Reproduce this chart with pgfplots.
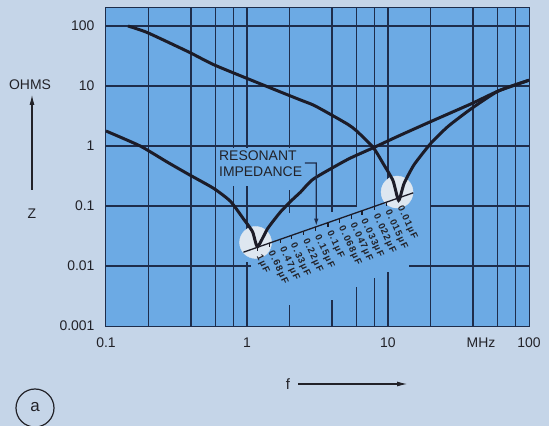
\documentclass[border=0pt]{standalone}
\usepackage{fontspec}
\setmainfont{Liberation Sans}
\newfontfamily\lblfont[LetterSpace=12]{Liberation Sans}
\usepackage{pgfplots}
\usepackage{pgfplotstable}
\pgfplotsset{compat=1.18}
\usetikzlibrary{arrows.meta}
\definecolor{outerbg}{RGB}{197,213,232}
\definecolor{plotbg}{RGB}{108,170,228}
\definecolor{gridc}{RGB}{30,45,75}
\definecolor{curvec}{RGB}{28,28,40}
\definecolor{spot}{RGB}{222,231,240}
\definecolor{txt}{RGB}{34,34,40}
\pgfdeclareplotmark{dtick}{\pgfpathmoveto{\pgfqpoint{0pt}{0pt}}\pgfpathlineto{\pgfqpoint{0pt}{-\pgfplotmarksize}}\pgfusepathqstroke}

% 1 uF capacitor impedance (MHz, ohms)
\pgfplotstableread{
f z
0.1 1.78
0.175 1.0
0.272 0.54
0.383 0.34
0.578 0.198
0.763 0.120
0.944 0.061
1.094 0.0375
1.188 0.021
1.40 0.042
1.73 0.080
2.11 0.129
2.40 0.171
2.97 0.284
5.19 0.60
7.82 0.93
11.8 1.46
20.2 2.57
39.0 5.07
60.7 8.28
100 12.5
}\curveA

% 0.01 uF capacitor impedance
\pgfplotstableread{
f z
0.1435 100
0.196 78
0.383 37.3
0.578 22.8
1.008 13.3
1.73 7.96
2.40 5.85
2.97 4.80
3.93 3.35
5.19 2.30
5.92 1.83
7.82 0.96
9.35 0.487
10.86 0.264
11.9 0.124
13.0 0.237
15.3 0.487
20.2 1.12
26.7 2.13
39.0 4.2
60.7 8.28
100 12.5
}\curveB

% resonant impedance scale
\pgfplotstableread{
f z lab
1.188 0.0205 1µF
1.441 0.02404 0.68µF
1.733 0.02797 0.47µF
2.068 0.03236 0.33µF
2.533 0.03823 0.22µF
3.067 0.04475 0.15µF
3.757 0.05284 0.1µF
4.556 0.06193 0.068µF
5.480 0.07208 0.047µF
6.540 0.08337 0.033µF
8.010 0.09847 0.022µF
9.700 0.1153 0.015µF
11.88 0.1361 0.01µF
}\resscale

\tikzset{gl/.style={gridc, line width=1.5bp}}

\begin{document}
\begin{tikzpicture}
\fill[outerbg] (0,0) rectangle (549bp,426bp);
\useasboundingbox (0,0) rectangle (549bp,426bp);
\begin{axis}[
  at={(106bp,100bp)}, anchor=south west,
  scale only axis, width=423bp, height=318bp,
  xmode=log, ymode=log,
  xmin=0.1, xmax=100, ymin=0.001, ymax=200,
  xtick={0.1,1,10,100}, xticklabels={0.1,1,10,100},
  ytick={0.001,0.01,0.1,1,10,100},
  yticklabels={0.001,0.01,0.1,1,10,100},
  xminorticks=false, yminorticks=false,
  axis line style={gridc, line width=2bp},
  major tick length=0pt, minor tick length=0pt,
  ticklabel style={font=\fontsize{14}{14}\selectfont, text=txt},
  yticklabel style={xshift=-8bp},
  xticklabel style={yshift=-8bp},
  clip mode=individual,
]
% plot area
\fill[plotbg] (rel axis cs:0,0) rectangle (rel axis cs:1,1);
% grid lines, broken where the lettering stands
\pgfplotsinvokeforeach{0.2,0.4,0.6,20,40,60,80}{
  \draw[gl] (axis cs:#1,0.001) -- (axis cs:#1,200);}
\pgfplotsinvokeforeach{1,10,100}{
  \draw[gl] (axis cs:0.1,#1) -- (axis cs:100,#1);}
\draw[gl] (axis cs:0.1,0.1) -- (axis cs:6,0.1);
\draw[gl] (axis cs:20,0.1) -- (axis cs:100,0.1);
\draw[gl] (axis cs:0.1,0.01) -- (axis cs:1.06,0.01);
\draw[gl] (axis cs:14.1,0.01) -- (axis cs:100,0.01);
\draw[gl] (axis cs:0.8,0.001) -- (axis cs:0.8,0.215);
\draw[gl] (axis cs:0.8,0.926) -- (axis cs:0.8,200);
\draw[gl] (axis cs:1,0.001) -- (axis cs:1,0.01166);
\draw[gl] (axis cs:1,0.0398) -- (axis cs:1,0.215);
\draw[gl] (axis cs:1,0.926) -- (axis cs:1,200);
\draw[gl] (axis cs:2,0.001) -- (axis cs:2,0.00224);
\draw[gl] (axis cs:2,0.0764) -- (axis cs:2,0.185);
\draw[gl] (axis cs:2,0.926) -- (axis cs:2,200);
\draw[gl] (axis cs:4,0.001) -- (axis cs:4,0.00271);
\draw[gl] (axis cs:4,0.0794) -- (axis cs:4,200);
\draw[gl] (axis cs:6,0.001) -- (axis cs:6,0.00447);
\draw[gl] (axis cs:6,0.1) -- (axis cs:6,200);
\draw[gl] (axis cs:8,0.001) -- (axis cs:8,0.0063);
\draw[gl] (axis cs:8,0.1) -- (axis cs:8,200);
\draw[gl] (axis cs:10,0.001) -- (axis cs:10,0.00794);
\draw[gl] (axis cs:10,0.271) -- (axis cs:10,200);
% pale spots at the two resonances
\addplot[only marks, mark=*, mark size=16bp, color=spot]
  coordinates {(1.15,0.0247) (11.6,0.171)};
% resonant impedance scale line
\addplot[curvec, line width=1.3bp] coordinates {(0.944,0.0170) (15.1,0.166)};
\addplot[only marks, mark=dtick, mark size=4bp, mark options={curvec, line width=1.1bp},
  nodes near coords, point meta=explicit symbolic,
  every node near coord/.append style={font=\lblfont\bfseries\fontsize{9.5}{10}\selectfont,
    text=txt, anchor=west, inner sep=0pt, shift={(1bp,-8bp)}, rotate=-65}]
  table[meta=lab] {\resscale};
% impedance curves
\addplot[curvec, line width=3bp, smooth, tension=0.35] table {\curveA};
\addplot[curvec, line width=3bp, smooth, tension=0.35] table {\curveB};
% annotation
\node[anchor=base west, font=\fontsize{14}{14}\selectfont, text=txt, inner sep=0pt]
  at (rel axis cs:0.267,0.519) {RESONANT};
\node[anchor=base west, font=\fontsize{14}{14}\selectfont, text=txt, inner sep=0pt]
  at (rel axis cs:0.267,0.469) {IMPEDANCE};
\draw[gridc, line width=1.2bp, -{Latex[length=7bp,width=4.5bp]}]
  (rel axis cs:0.470,0.5126) -- (rel axis cs:0.4971,0.5126) -- (axis cs:3.1,0.047);
\end{axis}
% outer labels
\node[font=\fontsize{14}{14}\selectfont, text=txt, anchor=north] at (481bp,92bp) {MHz};
\node[font=\fontsize{14}{14}\selectfont, text=txt] at (30bp,341bp) {OHMS};
\draw[txt, line width=1.5bp, -{Latex[length=11bp,width=5bp]}] (32bp,236bp) -- (32bp,332bp);
\node[font=\fontsize{14}{14}\selectfont, text=txt] at (32bp,212bp) {Z};
\node[font=\fontsize{15}{15}\selectfont, text=txt] at (288bp,42bp) {f};
\draw[txt, line width=1.5bp, -{Latex[length=11bp,width=5bp]}] (298bp,42bp) -- (408bp,42bp);
\draw[txt, line width=1.2bp] (35bp,18bp) circle (19bp);
\node[font=\fontsize{17}{17}\selectfont, text=txt] at (35bp,19bp) {a};
\end{tikzpicture}
\end{document}
